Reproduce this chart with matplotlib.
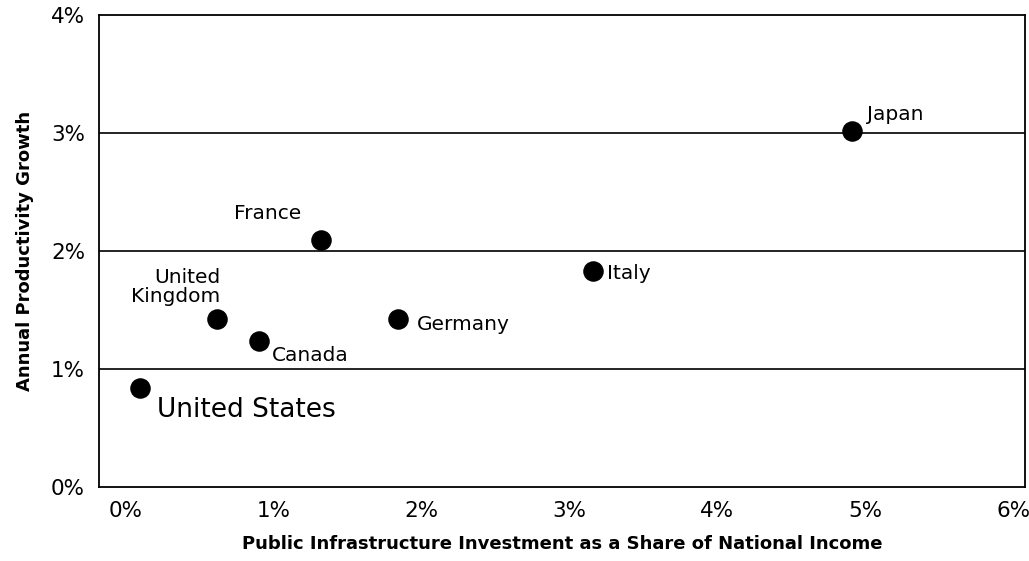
import matplotlib
matplotlib.use('Agg')
import matplotlib.pyplot as plt

# public infrastructure investment (% of national income) vs productivity growth
countries = ['United States', 'United\nKingdom', 'Canada', 'France', 'Germany', 'Italy', 'Japan']
invest = [0.10, 0.62, 0.90, 1.32, 1.84, 3.16, 4.91]
growth = [0.84, 1.42, 1.24, 2.09, 1.42, 1.83, 3.02]

x_ticks = [0, 1, 2, 3, 4, 5, 6]
y_ticks = [0, 1, 2, 3, 4]

plt.rcParams['font.family'] = ['DejaVu Sans']

fig = plt.figure(figsize=(10.29, 5.61), dpi=100)
ax = fig.add_axes([0.0962, 0.1319, 0.8999, 0.8414])

for g in [1, 2, 3]:
    ax.axhline(g, color='black', lw=1.2, zorder=1)

ax.scatter(invest, growth, s=190, color='black', zorder=3)

# label placement (pixel offsets from the dot)
label_pos = {
    'United States': (17, -22, 'left', 'center', 19),
    'United\nKingdom': (3, 13, 'right', 'bottom', 14.5),
    'Canada': (13, -15, 'left', 'center', 14.5),
    'France': (-20, 27, 'right', 'center', 14.5),
    'Germany': (19, -5, 'left', 'center', 14.5),
    'Italy': (14, -2, 'left', 'center', 14.5),
    'Japan': (15, 16, 'left', 'center', 14.5),
}
for name, xv, yv in zip(countries, invest, growth):
    dx, dy, ha, va, fs = label_pos[name]
    ax.annotate(name, (xv, yv), xytext=(dx, dy), textcoords='offset pixels',
                ha=ha, va=va, fontsize=fs, multialignment='right', linespacing=1.0)

ax.set_xlim(-0.18, 6.08)
ax.set_ylim(0, 4)
ax.set_xticks(x_ticks)
ax.set_xticklabels([f'{t}%' for t in x_ticks])
ax.set_yticks(y_ticks)
ax.set_yticklabels([f'{t}%' for t in y_ticks])
ax.tick_params(length=0, labelsize=15.5, pad=10)
for s in ax.spines.values():
    s.set_linewidth(1.3)

ax.set_xlabel('Public Infrastructure Investment as a Share of National Income',
              fontsize=13, fontweight='bold', labelpad=10)
ax.set_ylabel('Annual Productivity Growth', fontsize=13, fontweight='bold', labelpad=12)

plt.savefig('out.png', dpi=100)
